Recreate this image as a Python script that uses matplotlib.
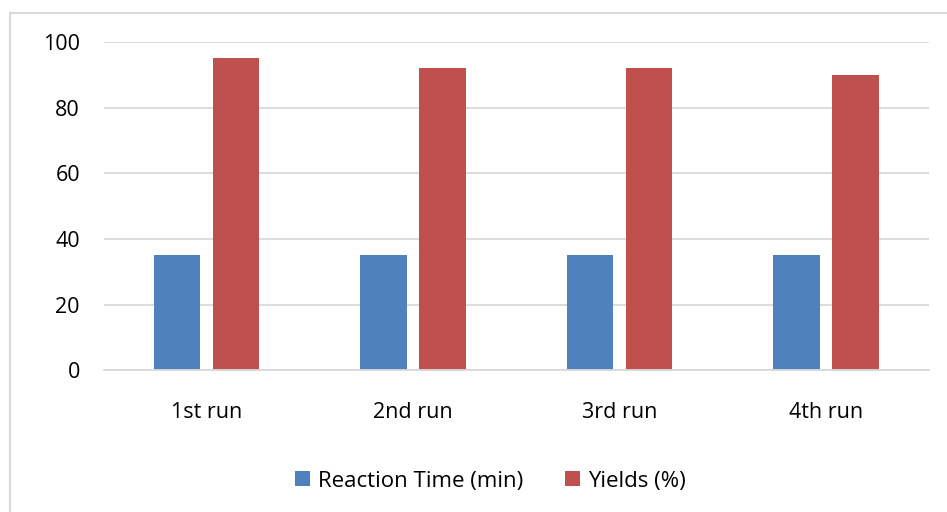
import numpy as np
import matplotlib.pyplot as plt
from matplotlib.patches import Rectangle

categories = ['1st run', '2nd run', '3rd run', '4th run']
reaction_time = [35, 35, 35, 35]
yields = [95, 92, 92, 90]
series_labels = ['Reaction Time (min)', 'Yields (%)']
y_ticks = [0, 20, 40, 60, 80, 100]

plt.rcParams['font.family'] = ['Open Sans', 'DejaVu Sans']

fig = plt.figure(figsize=(9.47, 5.12), dpi=100)
ax = fig.add_axes([0.1093, 0.277, 0.8717, 0.641])

# chart border
fig.patches.append(Rectangle((10 / 947, -0.05), 1.2, 1 - 13 / 512 + 0.05,
                             transform=fig.transFigure, fill=False,
                             edgecolor='#d9d9d9', linewidth=1.5))

x = np.arange(len(categories))
w = 0.225
off = 0.143
ax.bar(x - off, reaction_time, w, color='#4F81BD', label=series_labels[0], zorder=3)
ax.bar(x + off, yields, w, color='#C0504D', label=series_labels[1], zorder=3)

ax.set_xlim(-0.5, len(categories) - 0.5)
ax.set_ylim(0, 100)
ax.set_yticks(y_ticks)
ax.set_xticks(x)
ax.set_xticklabels(categories)
ax.tick_params(axis='both', length=0, labelsize=15.5, colors='black')
ax.tick_params(axis='y', pad=17)
ax.tick_params(axis='x', pad=23)
ax.yaxis.grid(True, color='#d9d9d9', linewidth=1.3, zorder=0)
for s in ['top', 'right', 'left']:
    ax.spines[s].set_visible(False)
ax.spines['bottom'].set_color('#d9d9d9')
ax.spines['bottom'].set_linewidth(1.3)
ax.spines['bottom'].set_zorder(4)

fig.legend(loc='center', bbox_to_anchor=(0.518, 1 - 481 / 512), ncol=2,
           frameon=False, fontsize=16, handlelength=0.68, handleheight=0.68,
           handletextpad=0.36, columnspacing=1.86)

fig.savefig('out.png', dpi=100)
